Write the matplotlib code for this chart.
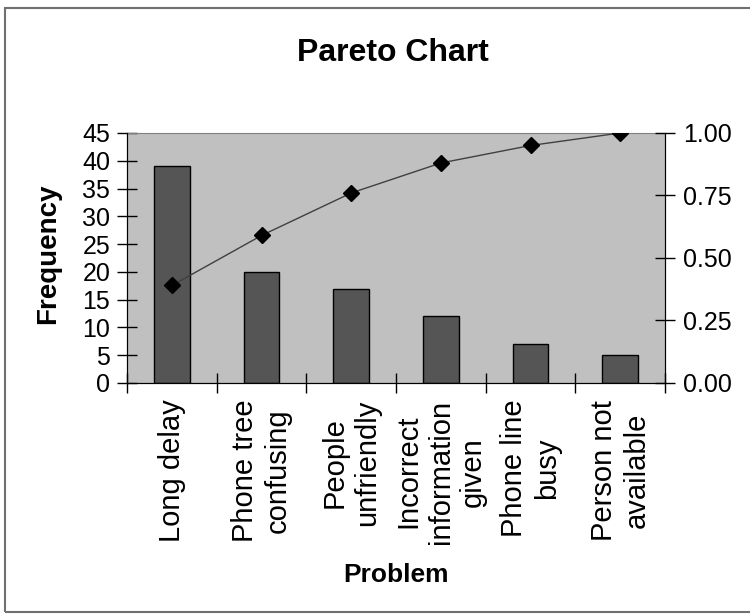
import numpy as np
import matplotlib
matplotlib.use("Agg")
from matplotlib import pyplot as plt
from matplotlib.patches import Rectangle
from matplotlib.ticker import FormatStrFormatter

problems = ["Long delay", "Phone tree\nconfusing", "People\nunfriendly",
            "Incorrect\ninformation\ngiven", "Phone line\nbusy", "Person not\navailable"]
frequency = [39, 20, 17, 12, 7, 5]

cumulative = np.cumsum(frequency) / np.sum(frequency)

plt.rcParams['font.family'] = ['Liberation Sans', 'DejaVu Sans']

fig = plt.figure(figsize=(7.5, 6.16), dpi=100)
ax = fig.add_axes([127 / 750, 1 - 383 / 616, (665 - 127) / 750, (383 - 133) / 616])
ax.set_facecolor('#c0c0c0')

x = np.arange(len(problems))
ax.bar(x, frequency, width=0.4, color='#555555', edgecolor='black', linewidth=1, zorder=2)
ax.set_xlim(-0.5, len(problems) - 0.5)
ax.set_ylim(0, 45)
ax.set_yticks(range(0, 46, 5))

# ticks between categories, labels at centers
ax.set_xticks(np.arange(-0.5, len(problems), 1))
ax.set_xticklabels([])
ax.set_xticks(x, minor=True)
ax.set_xticklabels(problems, minor=True, rotation=90, ha='center', va='top',
                   multialignment='center', linespacing=1.2, fontsize=21)
ax.tick_params(axis='x', which='minor', length=0, pad=12)
ax.tick_params(axis='x', which='major', direction='inout', length=14, width=1)
ax.tick_params(axis='y', direction='inout', length=14, width=1, labelsize=18, pad=5)

for s in ['left', 'bottom', 'right']:
    ax.spines[s].set_color('black')
ax.spines['top'].set_color('#808080')

ax2 = ax.twinx()
ax2.plot(x, cumulative, color='#404040', linewidth=1, marker='D', markersize=8,
         markerfacecolor='black', markeredgecolor='black', zorder=3)
ax2.set_ylim(0, 1)
ax2.set_yticks([0, 0.25, 0.5, 0.75, 1.0])
ax2.yaxis.set_major_formatter(FormatStrFormatter('%.2f'))
ax2.tick_params(axis='y', direction='inout', length=14, width=1, labelsize=18, pad=6)
ax2.spines['top'].set_visible(False)

fig.text(48 / 750, 1 - 254 / 616, 'Frequency', fontsize=20, fontweight='bold',
         rotation=90, ha='center', va='center')
fig.text(396 / 750, 1 - 575 / 616, 'Problem', fontsize=19, fontweight='bold',
         ha='center', va='center')
fig.text(393 / 750, 1 - 53 / 616, 'Pareto Chart', fontsize=23, fontweight='bold',
         ha='center', va='center')

fig.patches.append(Rectangle((5 / 750, 1 - 612 / 616), 1.1, (612 - 8) / 616,
                             transform=fig.transFigure, fill=False,
                             edgecolor='#707070', linewidth=1.5))

fig.savefig('out.png', dpi=100)
